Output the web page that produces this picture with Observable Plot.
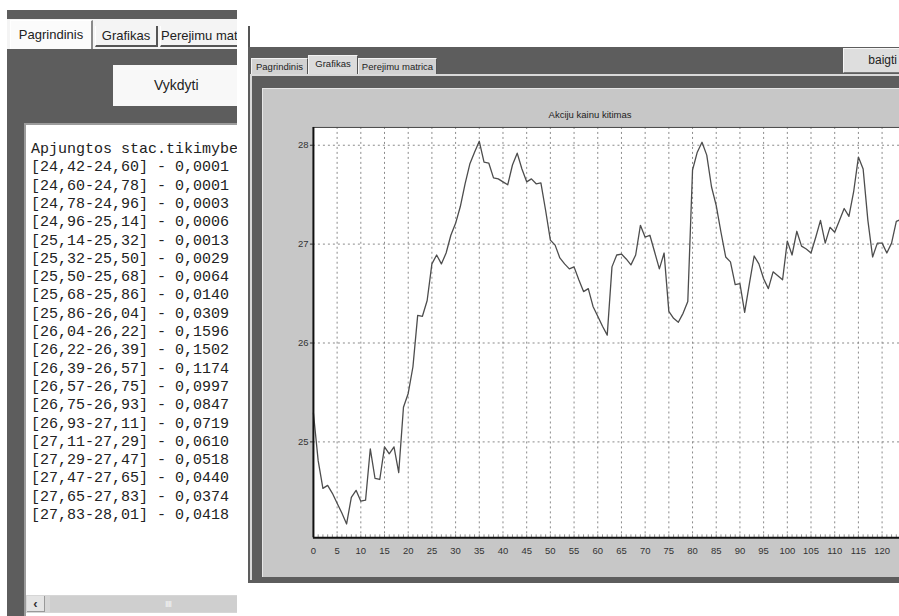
<!DOCTYPE html>
<html>
<head>
<meta charset="utf-8">
<script src="https://cdn.jsdelivr.net/npm/d3@7"></script>
<script src="https://cdn.jsdelivr.net/npm/@observablehq/plot@0.6"></script>
<style>
  html, body { margin: 0; padding: 0; }
  body { width: 899px; height: 616px; overflow: hidden; position: relative; background: #ffffff; font-family: "Liberation Sans", Arial, sans-serif; }
  .abs { position: absolute; box-sizing: border-box; }
  .tabL { position: absolute; box-sizing: border-box; font-size: 13px; color: #222; text-align: center; white-space: nowrap; overflow: hidden; }
  .tabR { position: absolute; box-sizing: border-box; font-size: 9.5px; color: #222; text-align: center; white-space: nowrap; overflow: hidden;
          background: #d2d2d2; border-top: 1px solid #f2f2f2; border-left: 1px solid #f2f2f2; border-right: 1px solid #555; }
  .mono { position: absolute; font-family: "Liberation Mono", "Courier New", monospace; font-size: 15px; color: #222; white-space: pre; line-height: 18px; }
</style>
</head>
<body>
<div id="app"></div>
<script>
// ---------- data ----------
const leftTabs = ["Pagrindinis", "Grafikas", "Perejimu matrica"];
const rightTabs = ["Pagrindinis", "Grafikas", "Perejimu matrica"];
const listHeader = "Apjungtos stac.tikimybes";
const intervals = ["[24,42-24,60]", "[24,60-24,78]", "[24,78-24,96]", "[24,96-25,14]", "[25,14-25,32]",
  "[25,32-25,50]", "[25,50-25,68]", "[25,68-25,86]", "[25,86-26,04]", "[26,04-26,22]",
  "[26,22-26,39]", "[26,39-26,57]", "[26,57-26,75]", "[26,75-26,93]", "[26,93-27,11]",
  "[27,11-27,29]", "[27,29-27,47]", "[27,47-27,65]", "[27,65-27,83]", "[27,83-28,01]"];
const probabilities = ["0,0001", "0,0001", "0,0003", "0,0006", "0,0013",
  "0,0029", "0,0064", "0,0140", "0,0309", "0,1596",
  "0,1502", "0,1174", "0,0997", "0,0847", "0,0719",
  "0,0610", "0,0518", "0,0440", "0,0374", "0,0418"];
const chartTitle = "Akciju kainu kitimas";
const prices = [
  25.29, 24.81, 24.53, 24.56, 24.48, 24.38, 24.28, 24.17, 24.44, 24.51,
  24.40, 24.41, 24.93, 24.63, 24.62, 24.95, 24.88, 24.95, 24.69, 25.35,
  25.49, 25.76, 26.28, 26.27, 26.43, 26.80, 26.89, 26.80, 26.91, 27.09,
  27.21, 27.38, 27.61, 27.81, 27.93, 28.04, 27.83, 27.82, 27.67, 27.66,
  27.63, 27.60, 27.80, 27.92, 27.76, 27.63, 27.66, 27.61, 27.62, 27.34,
  27.04, 26.99, 26.86, 26.80, 26.75, 26.77, 26.64, 26.52, 26.55, 26.37,
  26.27, 26.17, 26.08, 26.77, 26.89, 26.90, 26.85, 26.79, 26.89, 27.19,
  27.07, 27.09, 26.92, 26.75, 26.91, 26.32, 26.25, 26.21, 26.30, 26.42,
  27.75, 27.93, 28.03, 27.90, 27.58, 27.39, 27.12, 26.87, 26.82, 26.59,
  26.60, 26.31, 26.60, 26.88, 26.80, 26.65, 26.55, 26.72, 26.68, 26.64,
  27.03, 26.89, 27.13, 26.98, 26.95, 26.91, 27.07, 27.24, 27.01, 27.17,
  27.12, 27.24, 27.36, 27.28, 27.53, 27.88, 27.76, 27.24, 26.87, 27.01,
  27.01, 26.91, 27.01, 27.23, 27.25];
const xTicks = [0, 5, 10, 15, 20, 25, 30, 35, 40, 45, 50, 55, 60, 65, 70, 75, 80, 85, 90, 95, 100, 105, 110, 115, 120];
const yTicks = [25, 26, 27, 28];
const xDomain = [0, 130];
const yDomain = [24.03, 28.18];

// ---------- layout helpers ----------
const app = document.getElementById("app");
function box(css, html) {
  const d = document.createElement("div");
  d.className = "abs";
  d.style.cssText = css;
  if (html !== undefined) d.innerHTML = html;
  app.appendChild(d);
  return d;
}

// ---------- left window ----------
box("left:7px;top:10px;width:230px;height:9px;background:#5d5d5d;");
box("left:7px;top:19px;width:230px;height:30px;background:#f4f4f4;");
const lt = [
  {l: 10, w: 83, sel: true},
  {l: 95, w: 63, sel: false},
  {l: 160, w: 90, sel: false}
];
leftTabs.forEach((t, i) => {
  const g = lt[i];
  const d = document.createElement("div");
  d.className = "tabL";
  if (g.sel) {
    d.style.cssText = `left:${g.l}px;top:20px;width:${g.w}px;height:29px;line-height:27px;background:#fbfbfb;border-top:1px solid #fff;border-left:1px solid #fff;border-right:2px solid #8a8a8a;`;
  } else {
    d.style.cssText = `left:${g.l}px;top:26px;width:${g.w}px;height:21px;line-height:19px;background:#f4f4f4;border-left:1px solid #fff;border-right:2px solid #555;border-bottom:2px solid #555;`;
  }
  d.textContent = t;
  app.appendChild(d);
});
box("left:237px;top:0px;width:11px;height:616px;background:#ffffff;");
box("left:7px;top:49px;width:230px;height:567px;background:#5d5d5d;");
box("left:113px;top:65px;width:124px;height:41px;background:#f8f8f8;font-size:14px;color:#222;line-height:41px;padding-left:41px;", "Vykdyti");
// text area
const ta = box("left:24px;top:123px;width:213px;height:493px;background:#ffffff;border-top:2px solid #9c9c9c;border-left:2px solid #9c9c9c;overflow:hidden;");
const lines = [listHeader].concat(intervals.map((r, i) => `${r} - ${probabilities[i]}`));
lines.forEach((s, i) => {
  const d = document.createElement("div");
  d.className = "mono";
  d.style.left = "5px";
  d.style.top = (16 + i * 18.3) + "px";
  d.textContent = s;
  ta.appendChild(d);
});
// scrollbar
box("left:26px;top:595px;width:211px;height:18px;background:#d6d6d6;");
box("left:27px;top:596px;width:18px;height:16px;background:#e4e4e4;border-right:1px solid #999;border-bottom:1px solid #999;font-size:13px;line-height:15px;text-align:center;color:#333;font-weight:bold;", "&lsaquo;");
box("left:50px;top:596px;width:187px;height:16px;background:#cfcfcf;font-size:9px;line-height:16px;color:#f4f4f4;padding-left:115px;letter-spacing:-1px;", "IIII");

// ---------- right window ----------
box("left:248px;top:47px;width:660px;height:536px;background:#5d5d5d;");
const rt = [
  {l: 251, w: 57, sel: false},
  {l: 308, w: 50, sel: true},
  {l: 358, w: 79, sel: false}
];
rightTabs.forEach((t, i) => {
  const g = rt[i];
  const d = document.createElement("div");
  d.className = "tabR";
  if (g.sel) {
    d.style.cssText += `left:${g.l}px;top:55px;width:${g.w}px;height:20px;line-height:16px;background:#dcdcdc;`;
  } else {
    d.style.cssText += `left:${g.l}px;top:58px;width:${g.w}px;height:16px;line-height:15px;`;
  }
  d.textContent = t;
  app.appendChild(d);
});
box("left:250px;top:74px;width:660px;height:506px;border-top:2px solid #d9d9d9;border-left:2px solid #d9d9d9;");
box("left:843px;top:48px;width:60px;height:25px;background:#dedede;border-top:1px solid #f6f6f6;border-left:1px solid #f6f6f6;border-bottom:1px solid #777;font-size:12px;line-height:23px;text-align:right;padding-right:6px;color:#222;", "baigti");
const panel = box("left:262px;top:88px;width:660px;height:489px;background:#c7c7c7;border-top:1px solid #e6e6e6;border-left:1px solid #e6e6e6;");
box(`left:490px;top:108px;width:200px;height:14px;font-size:9.5px;line-height:14px;text-align:center;color:#222;`, chartTitle);

// ---------- chart ----------
const chart = Plot.plot({
  width: 660,
  height: 489,
  marginLeft: 50,
  marginTop: 38,
  marginBottom: 40,
  marginRight: -7,
  style: {background: "transparent", fontFamily: "'Liberation Sans', Arial, sans-serif", fontSize: "9.5px", color: "#333", overflow: "visible"},
  x: {domain: xDomain, ticks: xTicks, tickFormat: d => String(d), label: null, tickSize: 0, tickPadding: 9},
  y: {domain: yDomain, ticks: yTicks, tickFormat: d => String(d), label: null, tickSize: 3, tickPadding: 2},
  marks: [
    Plot.frame({fill: "white", stroke: "none"}),
    Plot.gridX(xTicks, {stroke: "#8a8a8a", strokeOpacity: 1, strokeWidth: 1, strokeDasharray: "2,3"}),
    Plot.gridY(yTicks, {stroke: "#8a8a8a", strokeOpacity: 1, strokeWidth: 1, strokeDasharray: "2,3"}),
    Plot.ruleY([yDomain[1]], {stroke: "#444", strokeWidth: 1}),
    Plot.ruleX(d3.range(0, 131), {y1: yDomain[0], y2: yDomain[0] + 0.03, stroke: "#777", strokeWidth: 0.8}),
    Plot.lineY(prices, {x: (d, i) => i, y: d => d, stroke: "#4d4d4d", strokeWidth: 1.3}),
    Plot.ruleX([0], {stroke: "#111", strokeWidth: 2}),
    Plot.ruleY([yDomain[0]], {stroke: "#111", strokeWidth: 2})
  ]
});
chart.style.position = "absolute";
chart.style.left = "0px";
chart.style.top = "0px";
panel.appendChild(chart);
</script>
</body>
</html>
